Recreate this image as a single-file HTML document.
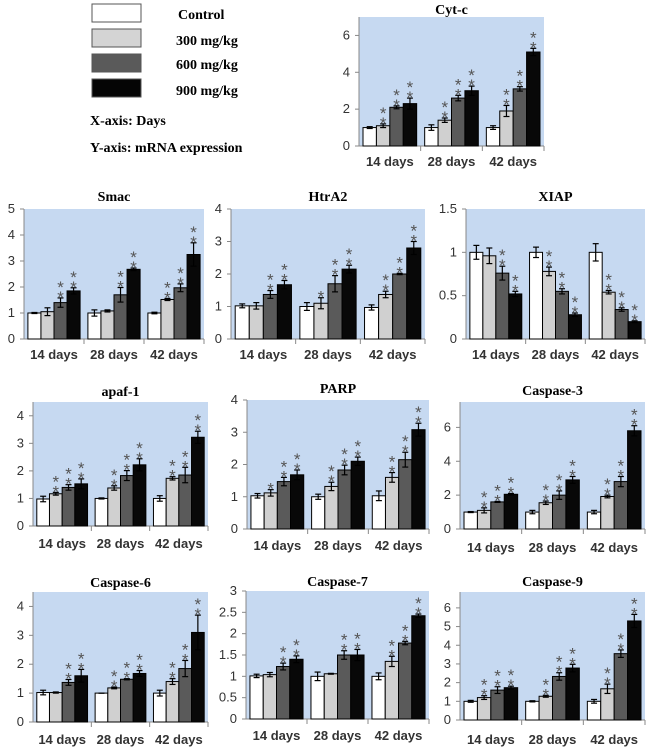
<!DOCTYPE html>
<html><head><meta charset="utf-8">
<style>
body{margin:0;background:#fff;}
svg{display:block;}
.tk{font-family:"Liberation Sans",sans-serif;font-size:13px;fill:#333;}
.tt{font-family:"Liberation Serif",serif;font-size:14px;font-weight:bold;fill:#000;}
.lg{font-family:"Liberation Serif",serif;font-size:14px;font-weight:bold;fill:#000;}
.st{font-family:"Liberation Sans",sans-serif;font-size:17px;fill:#555;}
</style></head>
<body>
<svg id="fig" width="650" height="751" xmlns="http://www.w3.org/2000/svg">
<g>
<rect x="92" y="4" width="49" height="18" fill="#fff" stroke="#555"/>
<text class="lg" x="178" y="19">Control</text>
<rect x="92" y="29" width="49" height="18" fill="#d4d4d4" stroke="#555"/>
<text class="lg" x="176" y="45">300 mg/kg</text>
<rect x="92" y="54" width="49" height="18" fill="#5a5a5a" stroke="#555"/>
<text class="lg" x="176" y="69">600 mg/kg</text>
<rect x="92" y="79" width="49" height="18" fill="#050505" stroke="#555"/>
<text class="lg" x="176" y="95">900 mg/kg</text>
<text class="lg" x="90" y="125">X-axis: Days</text>
<text class="lg" x="90" y="152">Y-axis: mRNA expression</text>
</g>
</svg>
<script>
const categories = ["14 days","28 days","42 days"];
const colors = ["#ffffff","#d0d0d0","#5a5a5a","#080808"];
const cytcVals = [[1.0,1.1,2.1,2.3],[1.0,1.4,2.6,3.0],[1.0,1.9,3.1,5.1]];
const cytcErr = [[.05,.1,.08,.3],[.15,.12,.15,.25],[.1,.3,.12,.2]];
const cytcStars = [[0,2,2,2],[0,2,2,2],[0,2,2,2]];
const smacVals = [[1.0,1.05,1.4,1.85],[1.0,1.08,1.7,2.68],[1.0,1.52,1.97,3.25]];
const smacErr = [[.02,.15,.18,.12],[.12,.04,.28,.05],[.03,.04,.15,.45]];
const smacStars = [[0,0,2,2],[0,0,2,2],[0,2,2,2]];
const htra2Vals = [[1.02,1.02,1.37,1.67],[1.0,1.1,1.7,2.15],[.97,1.37,2.0,2.8]];
const htra2Err = [[.06,.1,.12,.13],[.12,.17,.25,.12],[.08,.1,.02,.2]];
const htra2Stars = [[0,0,2,2],[0,1,2,2],[0,2,2,2]];
const xiapVals = [[1.0,.96,.76,.52],[1.0,.78,.55,.28],[1.0,.54,.34,.2]];
const xiapErr = [[.08,.09,.08,.03],[.06,.05,.03,.02],[.1,.02,.02,.01]];
const xiapStars = [[0,0,2,2],[0,2,2,2],[0,2,2,2]];
const apafVals = [[.98,1.17,1.4,1.53],[1.0,1.38,1.83,2.22],[1.0,1.73,1.85,3.22]];
const apafErr = [[.1,.05,.1,.18],[.02,.08,.18,.22],[.1,.06,.28,.22]];
const apafStars = [[0,2,2,2],[0,2,2,2],[0,2,2,2]];
const parpVals = [[1.03,1.12,1.47,1.68],[1.0,1.32,1.83,2.1],[1.03,1.6,2.15,3.08]];
const parpErr = [[.07,.1,.13,.15],[.08,.13,.15,.13],[.15,.15,.23,.2]];
const parpStars = [[0,1,2,2],[0,2,2,2],[0,2,2,2]];
const casp3Vals = [[1.0,1.1,1.6,2.05],[1.0,1.55,2.0,2.9],[1.0,1.92,2.8,5.8]];
const casp3Err = [[.03,.15,.03,.05],[.1,.1,.25,.2],[.1,.08,.3,.3]];
const casp3Stars = [[0,2,2,2],[0,2,2,2],[0,2,2,2]];
const casp6Vals = [[1.02,1.02,1.37,1.6],[1.0,1.18,1.48,1.68],[1.0,1.4,1.85,3.1]];
const casp6Err = [[.08,.02,.1,.22],[0,.03,.02,.1],[.1,.1,.28,.6]];
const casp6Stars = [[0,0,2,2],[0,2,2,2],[0,2,2,2]];
const casp7Vals = [[1.01,1.04,1.23,1.4],[1.0,1.06,1.5,1.5],[1.0,1.35,1.78,2.42]];
const casp7Err = [[.04,.05,.08,.08],[.1,.01,.1,.13],[.08,.12,.04,.04]];
const casp7Stars = [[0,0,2,2],[0,0,2,2],[0,2,2,2]];
const casp9Vals = [[1.0,1.2,1.6,1.73],[1.0,1.27,2.33,2.78],[1.0,1.67,3.55,5.3]];
const casp9Err = [[.05,.1,.18,.08],[.03,.05,.2,.2],[.1,.25,.2,.35]];
const casp9Stars = [[0,2,2,2],[0,2,2,2],[0,2,2,2]];

const NS="http://www.w3.org/2000/svg";
const svg=document.getElementById('fig');
function mk(tag,attrs,parent){const e=document.createElementNS(NS,tag);for(const k in attrs)e.setAttribute(k,attrs[k]);(parent||svg).appendChild(e);return e;}

function panel(o){
  const g=mk('g',{});
  
  
  const y=v=>o.y1-(v/o.max)*(o.y1-o.y0);
  const bg=mk('rect',{x:o.x0,y:o.y0,width:o.x1-o.x0,height:o.y1-o.y0,fill:'#c6d9f1'},g);
  
  
  const t=mk('text',{x:(o.x0+o.x1)/2,y:o.ty,'text-anchor':'middle',class:'tt'},g);
  t.textContent=o.title;
  
  
  mk('line',{x1:o.x0,y1:o.y0,x2:o.x0,y2:o.y1,stroke:'#888'},g);
  mk('line',{x1:o.x0,y1:o.y1,x2:o.x1,y2:o.y1,stroke:'#888'},g);
  o.ticks.forEach(v=>{
    mk('line',{x1:o.x0-4,y1:y(v),x2:o.x0,y2:y(v),stroke:'#888'},g);
    const tl=mk('text',{x:o.x0-9,y:y(v)+4,'text-anchor':'end',class:'tk'},g);
    tl.textContent=String(v);
    
    
  });
  const gw=(o.x1-o.x0)/categories.length;
  const bw=gw*0.87/4;
  categories.forEach((c,i)=>{
    const gx=o.x0+gw*i;
    mk('line',{x1:gx+gw,y1:o.y1,x2:gx+gw,y2:o.y1+5,stroke:'#888'},g);
    const cl=mk('text',{x:gx+gw/2,y:o.ly,'text-anchor':'middle',class:'tk','font-weight':'bold'},g);
    cl.textContent=c;
    
    
    o.vals[i].forEach((v,j)=>{
      const bx=gx+gw*0.065+bw*j;
      const r=mk('rect',{x:bx,y:y(v),width:bw,height:o.y1-y(v),fill:colors[j],stroke:'#000','stroke-width':1},g);
      
      
      const e=o.err[i][j], cx=bx+bw/2;
      const et=y(v+e), eb=y(v-e);
      mk('line',{x1:cx,y1:et,x2:cx,y2:eb,stroke:'#000','stroke-width':1.2},g);
      mk('line',{x1:cx-3,y1:et,x2:cx+3,y2:et,stroke:'#000','stroke-width':1.2},g);
      mk('line',{x1:cx-3,y1:eb,x2:cx+3,y2:eb,stroke:'#000','stroke-width':1.2},g);
      for(let s=0;s<o.stars[i][j];s++){
        const st=mk('text',{x:cx,y:et+5-s*10,'text-anchor':'middle',class:'st'},g);
        st.textContent='*';
        
        
      }
    });
  });
}
panel({name:'cytc',title:'Cyt-c',x0:359,x1:544,y0:17,y1:146,max:7,ticks:[0,2,4,6],ty:14,ly:166,vals:cytcVals,err:cytcErr,stars:cytcStars});
panel({name:'smac',title:'Smac',x0:24,x1:204,y0:209,y1:339,max:5,ticks:[0,1,2,3,4,5],ty:201,ly:359,vals:smacVals,err:smacErr,stars:smacStars});
panel({name:'htra2',title:'HtrA2',x0:231,x1:425,y0:209,y1:339,max:4,ticks:[0,1,2,3,4],ty:201,ly:359,vals:htra2Vals,err:htra2Err,stars:htra2Stars});
panel({name:'xiap',title:'XIAP',x0:466,x1:645,y0:209,y1:339,max:1.5,ticks:[0,0.5,1,1.5],ty:201,ly:359,vals:xiapVals,err:xiapErr,stars:xiapStars});
panel({name:'apaf1',title:'apaf-1',x0:33,x1:208,y0:402,y1:526,max:4.5,ticks:[0,1,2,3,4],ty:396,ly:548,vals:apafVals,err:apafErr,stars:apafStars});
panel({name:'parp',title:'PARP',x0:247,x1:429,y0:400,y1:529,max:4,ticks:[0,1,2,3,4],ty:393,ly:550,vals:parpVals,err:parpErr,stars:parpStars});
panel({name:'casp3',title:'Caspase-3',x0:460,x1:645,y0:402,y1:529,max:7.5,ticks:[0,2,4,6],ty:395,ly:552,vals:casp3Vals,err:casp3Err,stars:casp3Stars});
panel({name:'casp6',title:'Caspase-6',x0:33,x1:208,y0:592,y1:722,max:4.5,ticks:[0,1,2,3,4],ty:587,ly:744,vals:casp6Vals,err:casp6Err,stars:casp6Stars});
panel({name:'casp7',title:'Caspase-7',x0:246,x1:429,y0:591,y1:719,max:3,ticks:[0,0.5,1,1.5,2,2.5,3],ty:586,ly:740,vals:casp7Vals,err:casp7Err,stars:casp7Stars});
panel({name:'casp9',title:'Caspase-9',x0:460,x1:645,y0:592,y1:720,max:6.85,ticks:[0,1,2,3,4,5,6],ty:586,ly:744,vals:casp9Vals,err:casp9Err,stars:casp9Stars});
</script>
</body></html>
